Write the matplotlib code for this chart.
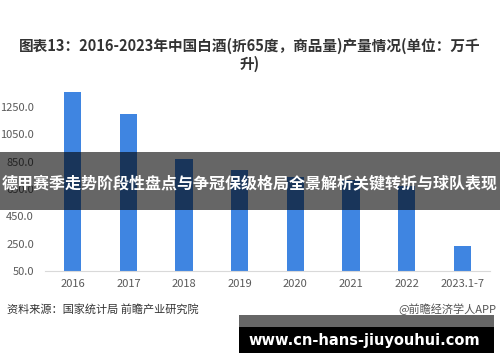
import matplotlib
matplotlib.use("Agg")
import matplotlib.pyplot as plt
from matplotlib.patches import Rectangle

plt.rcParams["font.family"] = ["Noto Sans CJK SC", "DejaVu Sans"]

# data (万千升)
years = ["2016", "2017", "2018", "2019", "2020", "2021", "2022", "2023.1-7"]
output = [1358.4, 1198.1, 871.2, 785.9, 740.7, 715.6, 671.2, 236.0]
yticks = [50, 250, 450, 650, 850, 1050, 1250]

title = "图表13：2016-2023年中国白酒(折65度，商品量)产量情况(单位：万千\n升)"
source = "资料来源：国家统计局 前瞻产业研究院"
credit = "@前瞻经济学人APP"
banner = "德甲赛季走势阶段性盘点与争冠保级格局全景解析关键转折与球队表现"
site = "www.cn-hans-jiuyouhui.com"

W, H = 500, 362
fig = plt.figure(figsize=(W / 100, H / 100), dpi=100)
ax = fig.add_axes([45 / W, 1 - 271 / H, 445 / W, (271 - 79.6) / H])

ax.bar(range(len(years)), [v - 50 for v in output], bottom=50, width=0.31,
       color="#3f85e1", zorder=2)
ax.set_xlim(-0.5, len(years) - 0.5)
ax.set_ylim(50, 1450)
ax.set_yticks(yticks)
ax.set_yticklabels([f"{v:.1f}" for v in yticks])
ax.set_xticks(range(len(years)))
ax.set_xticklabels(years)
ax.tick_params(length=0, labelsize=8, colors="#595959")
ax.tick_params(axis="y", pad=8)
ax.tick_params(axis="x", pad=6)
for s in ["top", "right", "left"]:
    ax.spines[s].set_visible(False)
ax.spines["bottom"].set_color("#d9d9d9")

fig.text(0.5, 1 - 55 / H, title, ha="center", va="center", fontsize=10.5,
         fontweight="bold", color="#333333", linespacing=1.15)
fig.text(7 / W, 1 - 309 / H, source, ha="left", va="center", fontsize=8,
         color="#333333")
fig.text(496 / W, 1 - 309 / H, credit, ha="right", va="center", fontsize=8,
         color="#555555")

# overlay banner
fig.patches.append(Rectangle((0, 1 - 210 / H), 1, 58 / H, transform=fig.transFigure,
                             facecolor="black", alpha=0.6, zorder=5))
fig.text(0.5, 1 - 183 / H, banner, ha="center", va="center", fontsize=11.5,
         fontweight="bold", color="white", zorder=6)

# bottom site box
fig.patches.append(Rectangle((239 / W, 1 - 327 / H), 255 / W, 12 / H,
                             transform=fig.transFigure, facecolor="black",
                             alpha=0.6, zorder=5))
fig.patches.append(Rectangle((239 / W, 1 - 353 / H), 255 / W, 26 / H,
                             transform=fig.transFigure, facecolor="black", zorder=5))
fig.text(364 / W, 1 - 340 / H, site, ha="center", va="center", fontsize=10.5,
         fontweight="bold", color="white", family="DejaVu Sans", zorder=6)

fig.savefig("out.png", dpi=100)
